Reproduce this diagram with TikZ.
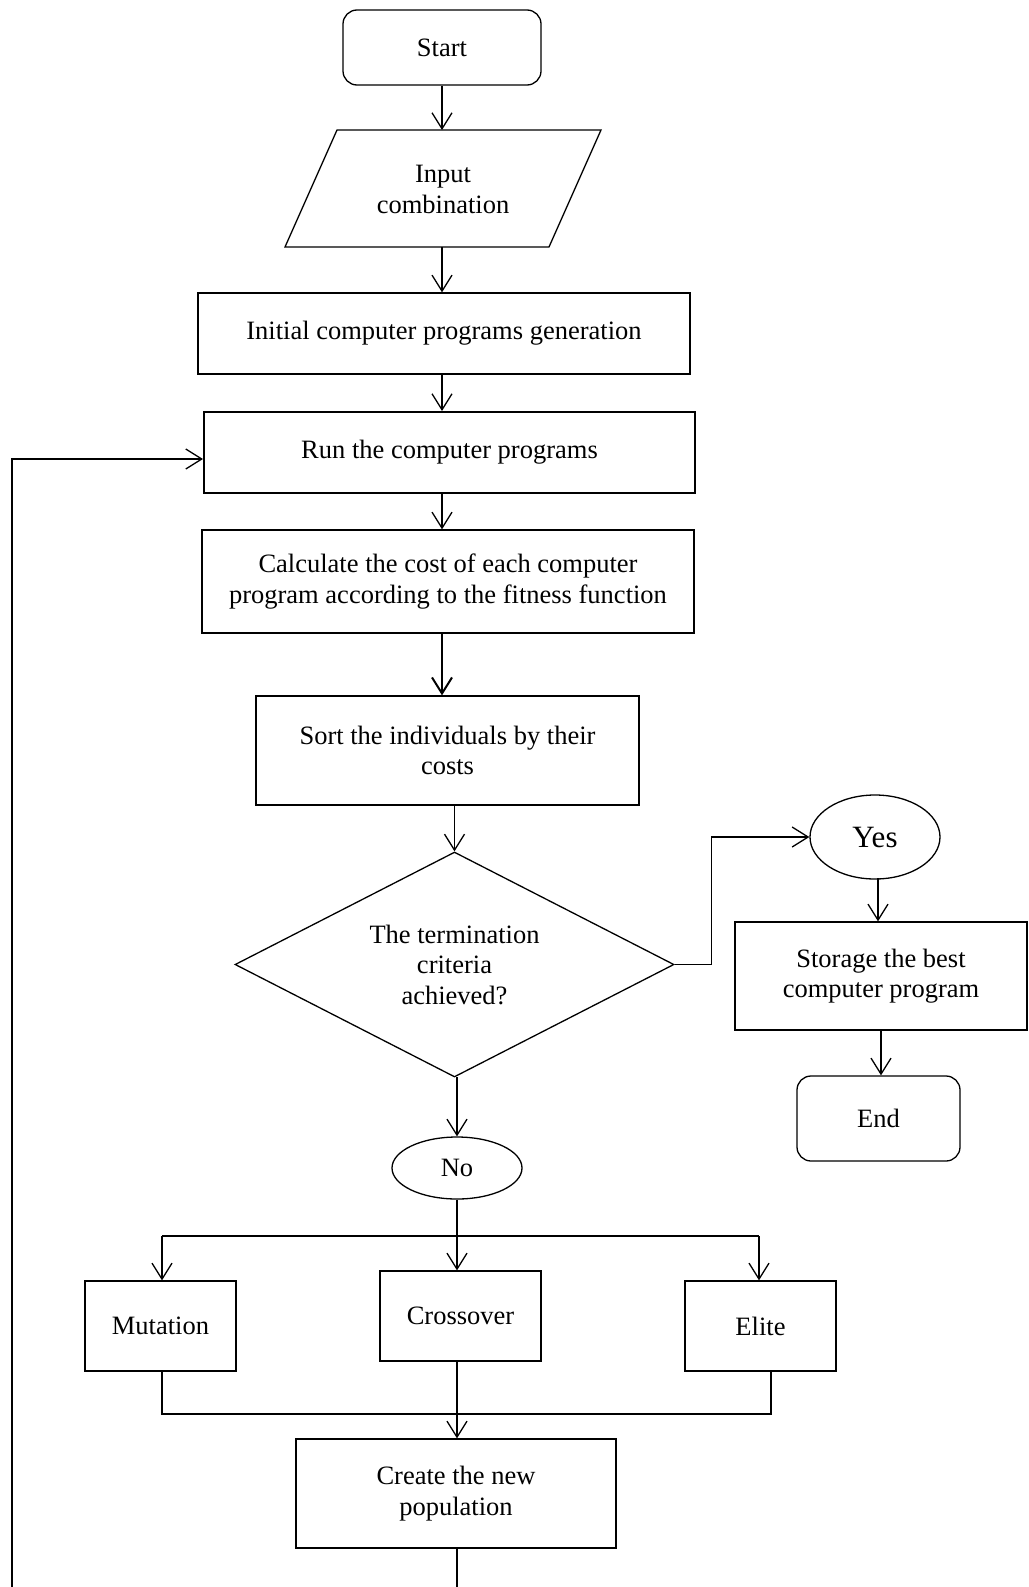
\documentclass[tikz,border=0pt]{standalone}
\usepackage{fontspec}
\setmainfont{Liberation Serif}
\usetikzlibrary{shapes.geometric,arrows.meta}
\newcommand\myfs{\fontsize{26.5}{30.5}\selectfont}
\begin{document}
\begin{tikzpicture}[x=1pt,y=-1pt,line width=1.3pt,
  box/.style={draw,rectangle,inner sep=0pt,align=center,font=\myfs},
  rbox/.style={box,rounded corners=14pt},
  oval/.style={draw,ellipse,inner sep=0pt,align=center,font=\myfs},
  dec/.style={draw,diamond,aspect=1.95,inner sep=0pt,align=center,font=\myfs},
  arr/.style={-{Straight Barb[length=16pt,width=20pt]}}]
\useasboundingbox (0,0) rectangle (1028,1587);
% nodes
\node[rbox,minimum width=198pt,minimum height=75pt] (start) at (442,47.5) {Start};
\node[font=\myfs,align=center] (input) at (443,189.5) {Input\\combination};
\coordinate (inputtop) at (442,130);
\coordinate (inputbot) at (442,247);
\draw (337,130) -- (601,130) -- (549,247) -- (285,247) -- cycle;
\node[box,minimum width=492pt,minimum height=81pt] (init) at (444,333.5) {Initial computer programs generation};
\node[box,line width=2pt,minimum width=491pt,minimum height=81pt] (run) at (449.5,452.5) {Run the computer programs};
\node[box,minimum width=492pt,minimum height=103pt] (calc) at (448,581.5) {Calculate the cost of each computer\\program according to the fitness function};
\node[box,minimum width=383pt,minimum height=109pt] (sort) at (447.5,750.5) {Sort the individuals by their\\costs};
\node[dec,minimum width=439pt,minimum height=225pt] (dia) at (454.5,964.5) {The termination\\criteria\\achieved?};
\node[oval,minimum width=130pt,minimum height=84pt,font=\fontsize{31}{36}\selectfont] (yes) at (875,837) {Yes};
\node[box,minimum width=292pt,minimum height=108pt] (store) at (881,976) {Storage the best\\computer program};
\node[rbox,minimum width=163pt,minimum height=85pt] (end) at (878.5,1118.5) {End};
\node[oval,minimum width=130pt,minimum height=62pt] (no) at (457,1168) {No};
\node[box,minimum width=151pt,minimum height=90pt] (mut) at (160.5,1326) {Mutation};
\node[box,minimum width=161pt,minimum height=90pt] (cross) at (460.5,1316) {Crossover};
\node[box,minimum width=151pt,minimum height=90pt] (elite) at (760.5,1326) {Elite};
\node[box,minimum width=320pt,minimum height=109pt] (create) at (456,1493.5) {Create the new\\population};
% connectors
\draw[arr] (start.south) -- (inputtop);
\draw[arr] (inputbot) -- (inputbot |- init.north);
\draw[arr] (inputbot |- init.south) -- (inputbot |- run.north);
\draw[arr] (inputbot |- run.south) -- (inputbot |- calc.north);
\draw[arr,line width=2pt] (inputbot |- calc.south) -- (inputbot |- sort.north);
\draw[arr] (sort.south -| dia.north) -- (dia.north);
\draw[arr] (dia.east) -- ++(37,0) |- (yes.west);
\coordinate (ys) at (878,878);
\draw[arr] (ys) -- (ys |- store.north);
\draw[arr] (store.south) -- (end.north -| store.south);
\coordinate (ns) at (457,1077);
\draw[arr] (ns) -- (ns |- no.north);
\coordinate (br) at (457,1236);
\coordinate (brL) at (162,1236);
\coordinate (brR) at (759,1236);
\draw (no.south) -- (br);
\draw (brL) -- (brR);
\draw[arr] (brL) -- (brL |- mut.north);
\draw[arr] (br) -- (br |- cross.north);
\draw[arr] (brR) -- (brR |- elite.north);
\coordinate (mg) at (457,1414);
\coordinate (mgL) at (162,1414);
\coordinate (mgR) at (771,1414);
\draw (mgL |- mut.south) -- (mgL) -- (mgR) -- (mgR |- elite.south);
\draw[arr] (mg |- cross.south) -- (mg |- create.north);
\coordinate (bot) at (457,1587);
\draw (create.south -| bot) -- (bot);
\coordinate (lb) at (12,1587);
\coordinate (lt) at (12,459);
\draw[arr] (lb) -- (lt) -- (lt -| run.west);
\end{tikzpicture}
\end{document}
